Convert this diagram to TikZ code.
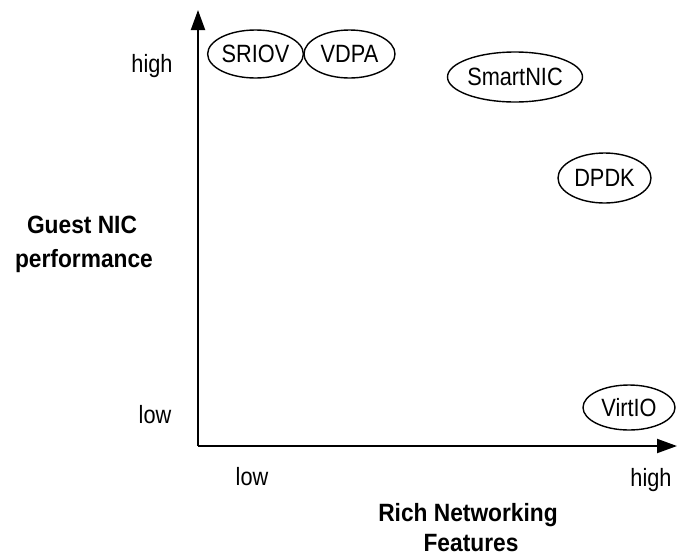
\documentclass[tikz,border=0pt]{standalone}
\usepackage{fontspec}
\setmainfont{Liberation Sans}[FakeStretch=0.87]
\newfontfamily\titlefont{Liberation Sans}[FakeStretch=0.91]
\usetikzlibrary{shapes.geometric,arrows.meta}
\begin{document}
\begin{tikzpicture}[x=1pt,y=-1pt,
  axis/.style={line width=2pt,-{Triangle[length=20pt,width=14pt]}},
  tech/.style={draw,ellipse,line width=1.4pt,inner sep=0pt,font=\fontsize{25}{25}\selectfont},
  lbl/.style={anchor=base,font=\fontsize{25}{25}\selectfont},
  title/.style={anchor=base,font=\fontsize{25}{25}\titlefont\bfseries}]
\useasboundingbox (0,0) rectangle (677,555);
\coordinate (O) at (198,446);
\coordinate (ytip) at (198,10);
\coordinate (xtip) at (677,446);
\draw[axis] (O) -- (ytip);
\draw[axis] (O) -- (xtip);
\node[tech,minimum width=95pt,minimum height=48pt] (sriov) at (255.5,54) {SRIOV};
\node[tech,minimum width=91pt,minimum height=48pt] (vdpa) at (349.5,54) {VDPA};
\node[tech,minimum width=116pt,minimum height=50pt] (smartnic) at (515,77) {SmartNIC};
\node[tech,minimum width=93pt,minimum height=50pt] (dpdk) at (604.5,178) {DPDK};
\node[tech,minimum width=92pt,minimum height=45pt] (virtio) at (629,407.5) {VirtIO};
\node[lbl] (yhigh) at (152,72) {high};
\node[lbl] (ylow) at (155,423) {low};
\node[lbl] (xlow) at (252,485) {low};
\node[lbl] (xhigh) at (651,486) {high};
\node[title] (ytitle1) at (82,233) {Guest NIC};
\node[title] (ytitle2) at (84,267) {performance};
\node[title] (xtitle1) at (468,521) {Rich Networking};
\node[title] (xtitle2) at (471,551) {Features};
\end{tikzpicture}
\end{document}
